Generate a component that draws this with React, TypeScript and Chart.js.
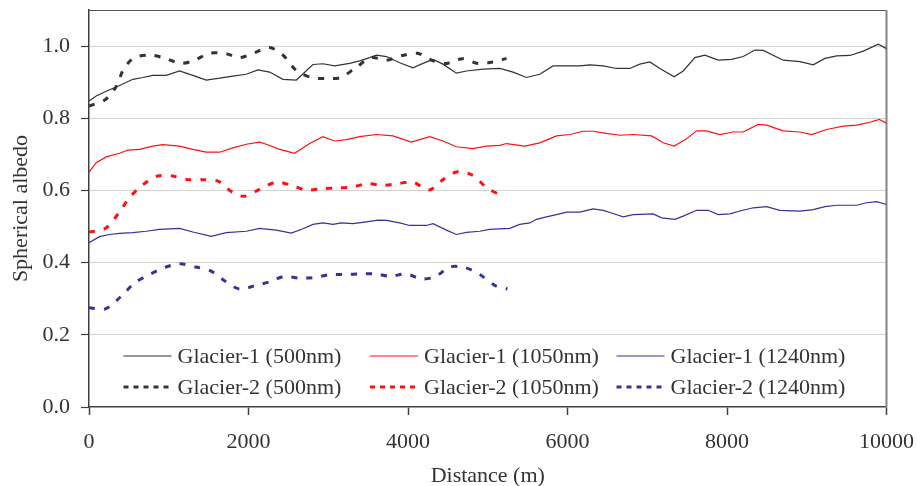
import { useEffect, useRef } from "react";
import { Chart, registerables } from "chart.js";

Chart.register(...registerables);

const FONT = "'Liberation Serif', 'Times New Roman', Times, serif";

// [distance (m), spherical albedo]
const glacier1_500: number[][] = [
  [0, 0.848], [90, 0.862], [216, 0.875], [383, 0.891], [550, 0.908], [675, 0.913], [800, 0.919], [968, 0.919],
  [1135, 0.931], [1302, 0.919], [1470, 0.906], [1637, 0.911], [1804, 0.917], [1972, 0.922], [2118, 0.934],
  [2265, 0.928], [2432, 0.908], [2600, 0.906], [2808, 0.949], [2933, 0.951], [3080, 0.945], [3268, 0.952],
  [3394, 0.959], [3519, 0.968], [3604, 0.975], [3729, 0.971], [3896, 0.954], [4063, 0.94], [4188, 0.952],
  [4314, 0.963], [4439, 0.95], [4607, 0.925], [4733, 0.931], [4941, 0.936], [5151, 0.938], [5318, 0.928],
  [5485, 0.913], [5652, 0.922], [5819, 0.945], [5988, 0.945], [6154, 0.945], [6280, 0.948], [6447, 0.945],
  [6615, 0.938], [6782, 0.938], [6907, 0.95], [7033, 0.956], [7158, 0.938], [7338, 0.915], [7451, 0.931],
  [7597, 0.968], [7723, 0.975], [7890, 0.961], [8058, 0.963], [8203, 0.971], [8350, 0.989], [8455, 0.988],
  [8705, 0.961], [8915, 0.957], [9081, 0.948], [9228, 0.966], [9375, 0.973], [9542, 0.974], [9709, 0.986],
  [9897, 1.005], [10000, 0.993],
];

const glacier1_1050: number[][] = [
  [0, 0.651], [90, 0.677], [216, 0.693], [383, 0.703], [487, 0.712], [634, 0.714], [800, 0.723], [926, 0.727],
  [1135, 0.723], [1302, 0.714], [1470, 0.706], [1637, 0.706], [1804, 0.718], [1972, 0.728], [2139, 0.734],
  [2223, 0.728], [2390, 0.714], [2474, 0.709], [2578, 0.703], [2767, 0.73], [2933, 0.749], [3080, 0.737],
  [3227, 0.741], [3394, 0.749], [3604, 0.755], [3812, 0.751], [4042, 0.734], [4272, 0.749], [4439, 0.737],
  [4607, 0.721], [4816, 0.716], [4983, 0.723], [5151, 0.725], [5235, 0.73], [5464, 0.723], [5652, 0.732],
  [5862, 0.751], [6029, 0.755], [6196, 0.764], [6321, 0.764], [6489, 0.758], [6656, 0.753], [6823, 0.755],
  [7054, 0.751], [7200, 0.732], [7338, 0.723], [7493, 0.743], [7618, 0.765], [7744, 0.765], [7911, 0.755],
  [8078, 0.762], [8203, 0.762], [8391, 0.783], [8496, 0.781], [8705, 0.765], [8915, 0.762], [9061, 0.755],
  [9249, 0.769], [9458, 0.778], [9626, 0.781], [9793, 0.789], [9910, 0.797], [10000, 0.786],
];

const glacier1_1240: number[][] = [
  [0, 0.455], [132, 0.472], [257, 0.478], [383, 0.481], [550, 0.483], [717, 0.487], [885, 0.492], [1135, 0.495],
  [1302, 0.485], [1533, 0.473], [1721, 0.483], [1972, 0.487], [2139, 0.495], [2348, 0.49], [2537, 0.482],
  [2683, 0.494], [2808, 0.506], [2933, 0.51], [3059, 0.506], [3164, 0.51], [3310, 0.508], [3478, 0.513],
  [3624, 0.518], [3729, 0.517], [3896, 0.51], [4021, 0.503], [4231, 0.503], [4314, 0.508], [4482, 0.49],
  [4607, 0.478], [4733, 0.484], [4900, 0.487], [5025, 0.492], [5276, 0.495], [5401, 0.506], [5527, 0.51],
  [5611, 0.52], [5737, 0.527], [5862, 0.533], [5988, 0.54], [6154, 0.54], [6321, 0.549], [6447, 0.545],
  [6572, 0.536], [6698, 0.527], [6823, 0.533], [7074, 0.535], [7180, 0.524], [7346, 0.52], [7451, 0.529],
  [7618, 0.545], [7764, 0.545], [7890, 0.533], [8036, 0.535], [8162, 0.543], [8329, 0.552], [8496, 0.555],
  [8663, 0.545], [8915, 0.543], [9081, 0.547], [9228, 0.555], [9375, 0.559], [9626, 0.559], [9751, 0.566],
  [9877, 0.569], [10000, 0.561],
];

const glacier2_500: number[][] = [
  [0, 0.834], [207, 0.852], [349, 0.891], [433, 0.936], [571, 0.968], [780, 0.975], [968, 0.965], [1157, 0.952],
  [1324, 0.961], [1512, 0.98], [1721, 0.979], [1888, 0.968], [2077, 0.982], [2265, 0.996], [2432, 0.975],
  [2600, 0.932], [2788, 0.913], [2976, 0.91], [3156, 0.913], [3344, 0.94], [3541, 0.968], [3729, 0.961],
  [3917, 0.973], [4118, 0.98], [4314, 0.959], [4482, 0.952], [4683, 0.965], [4878, 0.952], [5067, 0.956],
  [5235, 0.966],
];

const glacier2_1050: number[][] = [
  [0, 0.485], [207, 0.495], [383, 0.541], [508, 0.58], [670, 0.615], [863, 0.64], [1044, 0.64], [1240, 0.63],
  [1415, 0.63], [1616, 0.626], [1804, 0.594], [1951, 0.584], [2139, 0.603], [2348, 0.623], [2557, 0.613],
  [2725, 0.601], [2926, 0.605], [3109, 0.607], [3310, 0.61], [3490, 0.619], [3686, 0.614], [3875, 0.619],
  [4063, 0.623], [4263, 0.601], [4439, 0.63], [4620, 0.652], [4808, 0.642], [4991, 0.607], [5172, 0.586],
];

const glacier2_1240: number[][] = [
  [0, 0.275], [207, 0.272], [404, 0.307], [573, 0.344], [759, 0.367], [947, 0.386], [1135, 0.397], [1336, 0.388],
  [1520, 0.378], [1713, 0.348], [1888, 0.327], [2077, 0.336], [2265, 0.347], [2453, 0.362], [2641, 0.357],
  [2829, 0.359], [3026, 0.367], [3214, 0.367], [3403, 0.369], [3591, 0.369], [3779, 0.362], [3971, 0.369],
  [4168, 0.355], [4344, 0.361], [4523, 0.388], [4720, 0.386], [4900, 0.367], [5088, 0.337], [5247, 0.327],
];

const seriesLabels = [
  "Glacier-1 (500nm)",
  "Glacier-1 (1050nm)",
  "Glacier-1 (1240nm)",
  "Glacier-2 (500nm)",
  "Glacier-2 (1050nm)",
  "Glacier-2 (1240nm)",
];
const seriesData = [glacier1_500, glacier1_1050, glacier1_1240, glacier2_500, glacier2_1050, glacier2_1240];
const seriesColors = ["#333333", "#ff1010", "#333399", "#333333", "#ff1010", "#333399"];

const xTicks = [0, 2000, 4000, 6000, 8000, 10000];
const yTicks = [0, 0.2, 0.4, 0.6, 0.8, 1.0];

const framePlugin = {
  id: "frame",
  beforeDatasetsDraw(chart: any) {
    const { ctx, chartArea } = chart;
    ctx.save();
    ctx.strokeStyle = "#555555";
    ctx.lineWidth = 1.2;
    ctx.beginPath();
    ctx.moveTo(chartArea.left, chartArea.top + 0.5);
    ctx.lineTo(chartArea.right, chartArea.top + 0.5);
    ctx.stroke();
    ctx.strokeStyle = "#858585";
    ctx.lineWidth = 2;
    ctx.beginPath();
    ctx.moveTo(chartArea.right, chartArea.top);
    ctx.lineTo(chartArea.right, chartArea.bottom);
    ctx.stroke();
    ctx.restore();
  },
};

const legendPlugin = {
  id: "insideLegend",
  afterDatasetsDraw(chart: any) {
    const { ctx, chartArea } = chart;
    ctx.save();
    ctx.font = `22px ${FONT}`;
    ctx.textBaseline = "middle";
    ctx.textAlign = "left";
    chart.data.datasets.forEach((ds: any, i: number) => {
      const col = i % 3;
      const row = Math.floor(i / 3);
      const x0 = chartArea.left + 34.5 + col * 246.5;
      const y = chartArea.bottom - 51 + row * 31;
      ctx.strokeStyle = ds.borderColor;
      ctx.lineWidth = ds.borderWidth;
      ctx.setLineDash(row === 1 ? [5, 5] : []);
      ctx.beginPath();
      ctx.moveTo(x0, y);
      ctx.lineTo(x0 + 48, y);
      ctx.stroke();
      ctx.setLineDash([]);
      ctx.fillStyle = "#333333";
      ctx.fillText(ds.label, x0 + 54, y + 1);
    });
    ctx.restore();
  },
};

export default function App() {
  const ref = useRef<HTMLCanvasElement>(null);
  useEffect(() => {
    const datasets = seriesData.map((pairs, i) => {
      const dashed = i >= 3;
      return {
        label: seriesLabels[i],
        data: pairs.map(([x, y]) => ({ x, y })),
        borderColor: seriesColors[i],
        backgroundColor: seriesColors[i],
        borderWidth: dashed ? 3 : 1.2,
        borderDash: dashed ? [6, 9] : [],
        pointRadius: 0,
        tension: dashed ? 0.3 : 0,
        fill: false,
      };
    });
    const font = { family: FONT, size: 22 };
    const chart = new Chart(ref.current as HTMLCanvasElement, {
      type: "line",
      data: { datasets },
      options: {
        animation: false,
        responsive: false,
        layout: { padding: { left: 0, top: 10, right: 30.5, bottom: 0 } },
        plugins: { legend: { display: false }, tooltip: { enabled: false } },
        scales: {
          x: {
            type: "linear",
            min: xTicks[0],
            max: xTicks[xTicks.length - 1],
            afterBuildTicks: (s: any) => {
              s.ticks = xTicks.map((v) => ({ value: v }));
            },
            ticks: {
              font,
              color: "#333333",
              padding: 14,
              maxRotation: 0,
              autoSkip: false,
              callback: (v: any) => String(v),
            },
            grid: {
              drawOnChartArea: false,
              drawTicks: true,
              tickLength: 8,
              tickColor: "#404040",
              tickWidth: 1.5,
            },
            border: { color: "#404040", width: 1.5 },
            title: {
              display: true,
              text: "Distance (m)",
              font,
              color: "#333333",
              padding: { top: 0, bottom: -3 },
            },
            afterFit: (s: any) => {
              s.height = 79;
              s.paddingLeft = 0;
              s.paddingRight = 0;
            },
          },
          y: {
            type: "linear",
            min: 0,
            max: 1.1,
            afterBuildTicks: (s: any) => {
              s.ticks = yTicks.map((v) => ({ value: v }));
            },
            ticks: {
              font,
              color: "#333333",
              padding: 11,
              autoSkip: false,
              callback: (v: any) => Number(v).toFixed(1),
            },
            grid: {
              color: (c: any) => (c.tick && c.tick.value === 0 ? "rgba(0,0,0,0)" : "#d4d2ce"),
              lineWidth: 1,
              tickLength: 8,
              tickColor: "#404040",
              tickWidth: 1.2,
            },
            border: { color: "#404040", width: 1.5 },
            title: {
              display: true,
              text: "Spherical albedo",
              font,
              color: "#333333",
              padding: { top: 8, bottom: 0 },
            },
            afterFit: (s: any) => {
              s.width = 89;
              s.paddingTop = 0;
              s.paddingBottom = 0;
            },
          },
        },
      } as any,
      plugins: [framePlugin, legendPlugin],
    });
    return () => chart.destroy();
  }, []);
  return (
    <div style={{ position: "fixed", left: 0, top: 0, width: 917, height: 486, background: "#fff" }}>
      <canvas ref={ref} width={917} height={486} style={{ display: "block" }} />
    </div>
  );
}
